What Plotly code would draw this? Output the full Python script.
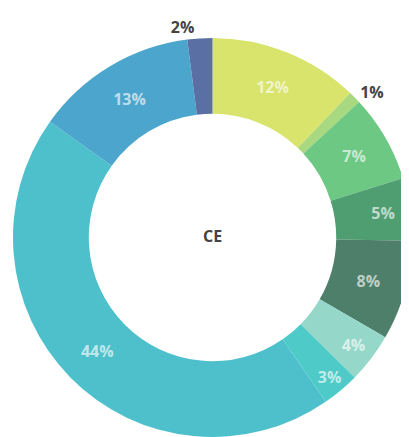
import plotly.graph_objects as go

labels = ["A", "B", "C", "D", "E", "F", "G", "H", "I", "J"]
values = [12, 1, 7, 5, 8, 4, 3, 44, 13, 2]
colors = ["#d8e46c", "#a8d880", "#6cc882", "#4f9e72", "#4e7f6b",
          "#95d8ca", "#4ecbc8", "#4ec0cc", "#4ba5cc", "#5a70a5"]
positions = ["inside", "outside", "inside", "inside", "inside",
             "inside", "inside", "inside", "inside", "outside"]
center_label = "CE"

W, H = 409, 437
cx, cy, r = 204, 229, 203

fig = go.Figure(go.Pie(
    labels=labels,
    values=values,
    sort=False,
    direction="clockwise",
    rotation=0,
    hole=0.62,
    marker=dict(colors=colors, line=dict(width=0)),
    texttemplate="%{value}%",
    textposition=positions,
    insidetextorientation="horizontal",
    insidetextfont=dict(family="Open Sans", size=16, color="rgba(255,255,255,0.65)", weight="bold"),
    outsidetextfont=dict(family="Open Sans", size=16, color="#444444", weight="bold"),
    title=dict(text=center_label, position="middle center",
               font=dict(family="Open Sans", size=16, color="#444444", weight="bold")),
    domain=dict(x=[(cx - r) / W, (cx + r) / W], y=[1 - (cy + r) / H, 1 - (cy - r) / H]),
    showlegend=False,
    hoverinfo="label+percent",
))

fig.update_layout(
    width=W, height=H,
    margin=dict(l=0, r=0, t=0, b=0),
    paper_bgcolor="white",
    plot_bgcolor="white",
)

fig.write_html("out.html")
